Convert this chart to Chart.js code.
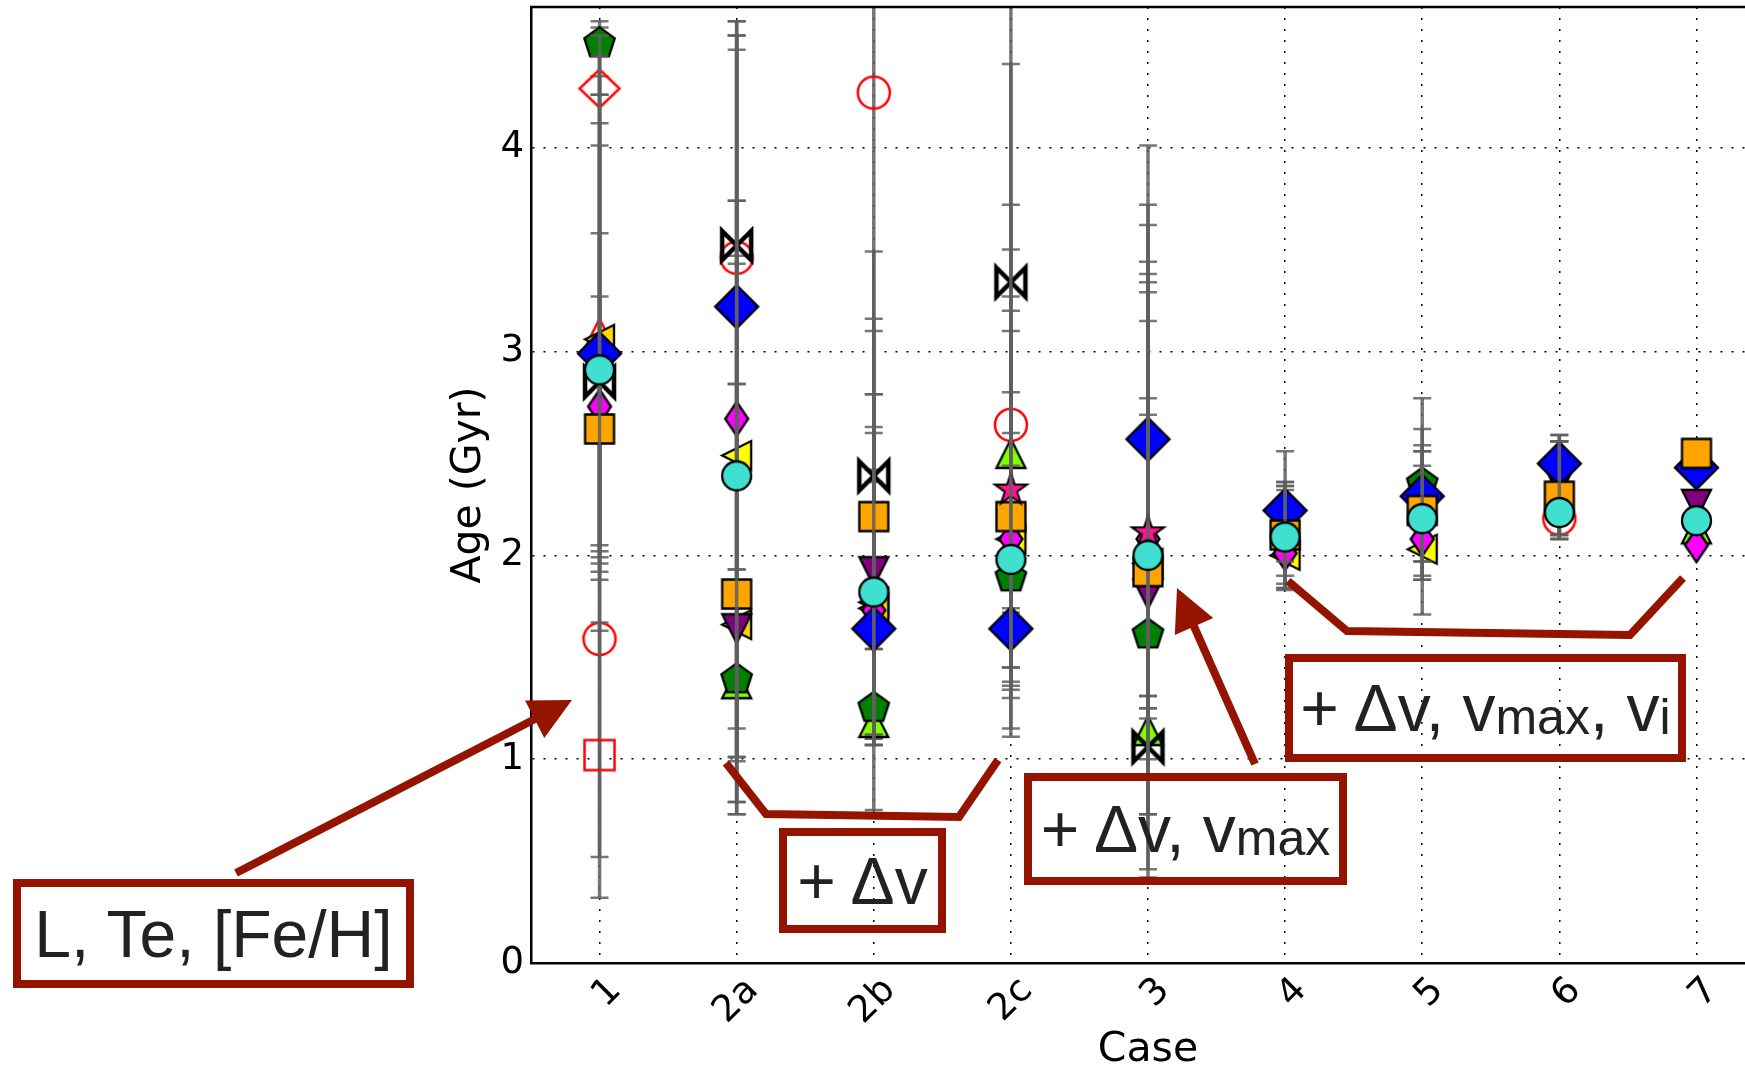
<!DOCTYPE html>
<html><head><meta charset="utf-8">
<script src="https://cdn.jsdelivr.net/npm/chart.js@4.4.0/dist/chart.umd.min.js"></script>
<style>
html,body{margin:0;padding:0;background:#fff;overflow:hidden;width:1745px;height:1072px}
#wrap{position:relative;width:1780px;height:1072px;overflow:hidden}
#c{position:absolute;left:0;top:-8px}
#ann{position:absolute;left:0;top:0}
.box{position:absolute;box-sizing:border-box;border:8px solid #941400;display:flex;align-items:center;justify-content:center;font-family:"Liberation Sans",Arial,sans-serif;font-size:66px;color:#222;white-space:nowrap;line-height:1}
.box .s{font-size:50px;position:relative;top:9px}
</style></head>
<body><div id="wrap">
<canvas id="c" width="1780" height="1080"></canvas>
<svg id="ann" width="1780" height="1072" xmlns="http://www.w3.org/2000/svg"></svg>
<div class="box" style="left:13px;top:879px;width:401px;height:109px">L, Te, [Fe/H]</div>
<div class="box" style="left:779px;top:828px;width:167px;height:105px">+ Δv</div>
<div class="box" style="left:1024px;top:773px;width:323px;height:112px">+ Δv, v<span class="s">max</span></div>
<div class="box" style="left:1285px;top:654px;width:401px;height:108px">+ Δv, v<span class="s">max</span>, v<span class="s">i</span></div>
</div>
<script>
// ---------------- data ----------------
const cases  = ['1','2a','2b','2c','3','4','5','6','7'];
const yTicks = [0,1,2,3,4];

const redCircle     = [1.59, 3.46, 4.27, 2.64, null, null, null, 2.18, null];
const redCircleLo   = [0.52, 2.84, 1.10, 1.11, null, null, null, 2.08, null];
const redCircleHi   = [4.62, 4.62, 5.20, 4.90, null, null, null, 2.56, null];

const redDiamond    = [4.29, null, null, null, null, null, null, null, null];
const redDiamondLo  = [4.26, null, null, null, null, null, null, null, null];
const redDiamondHi  = [4.35, null, null, null, null, null, null, null, null];

const redSquare     = [1.02, null, null, null, null, null, null, null, null];
const redSquareLo   = [0.32, null, null, null, null, null, null, null, null];
const redSquareHi   = [1.67, null, null, null, null, null, null, null, null];

const redTriangle   = [3.09, null, null, null, null, null, null, null, null];
const redTriangleLo = [1.99, null, null, null, null, null, null, null, null];
const redTriangleHi = [4.12, null, null, null, null, null, null, null, null];

const yellowTri     = [null, 2.49, 1.77, 2.08, 1.96, 2.00, 2.03, null, null];
const yellowTriLo   = [null, 0.99, 1.12, 1.36, 0.42, 1.90, 1.97, null, null];
const yellowTriHi   = [null, 3.47, 2.79, 2.80, 3.34, 2.36, 2.51, null, null];

const goldTri       = [3.06, 1.66, 1.74, null, null, null, null, null, null];
const goldTriLo     = [2.02, 0.73, 1.10, null, null, null, null, null, null];
const goldTriHi     = [4.26, 4.55, 2.79, null, null, null, null, null, null];

const limeTri       = [null, 1.37, 1.18, 2.50, 1.14, null, null, null, 2.13];
const limeTriLo     = [null, 0.79, 1.07, 1.38, 1.00, null, null, null, null];
const limeTriHi     = [null, 1.93, 1.30, 3.72, 2.77, null, null, null, null];

const greenPent     = [4.52, 1.40, 1.26, 1.90, 1.62, null, 2.36, null, null];
const greenPentLo   = [4.45, 0.73, 1.12, 1.72, 1.25, null, 1.71, null, null];
const greenPentHi   = [4.59, 2.84, 1.54, 2.60, 3.15, null, 2.77, null, null];

const purpleTri     = [null, 1.64, 1.92, null, 1.81, 2.15, null, 2.36, 2.25];
const purpleTriLo   = [null, 1.01, 1.07, null, 1.31, 1.83, null, 2.10, null];
const purpleTriHi   = [null, 1.66, 3.16, null, 3.29, 2.32, null, 2.56, null];

const magentaDiam   = [2.73, 2.67, 1.73, 2.08, 2.08, 2.01, 2.08, 2.34, 2.05];
const magentaDiamLo = [1.96, 1.15, 1.07, 1.34, 1.20, 1.84, 1.88, 2.10, null];
const magentaDiamHi = [3.27, 4.48, 2.63, 3.10, 3.62, 2.34, 2.44, 2.56, null];

const bowtie        = [2.85, 3.52, 2.39, 3.34, 1.06, null, null, null, null];
const bowtieLo      = [1.88, 3.43, 2.36, 3.27, 0.73, null, null, null, null];
const bowtieHi      = [4.01, 3.74, 2.42, 3.50, 2.69, null, null, null, null];

const blueDiam      = [2.99, 3.22, 1.64, 1.64, 2.57, 2.22, 2.29, 2.45, 2.43];
const blueDiamLo    = [2.05, 1.93, 1.54, 1.45, 1.31, 1.97, 1.97, 2.08, null];
const blueDiamHi    = [4.55, 4.55, 2.60, 1.74, 4.01, 2.51, 2.62, 2.59, null];

const orangeSq      = [2.62, 1.81, 2.19, 2.19, 1.92, 2.10, 2.22, 2.29, 2.50];
const orangeSqLo    = [1.63, 1.01, 1.12, 1.30, 0.46, 1.84, 1.88, 2.10, null];
const orangeSqHi    = [4.45, 4.62, 3.49, 3.20, 3.38, 2.36, 2.54, 2.56, null];

const pinkStar      = [null, null, null, 2.33, 2.12, null, null, null, null];
const pinkStarLo    = [null, null, null, 1.45, 1.25, null, null, null, null];
const pinkStarHi    = [null, null, null, 4.41, 3.72, null, null, null, null];

const cyanCircle    = [2.91, 2.39, 1.82, 1.98, 2.00, 2.09, 2.18, 2.21, 2.17];
const cyanCircleLo  = [1.92, 0.79, 0.75, 1.15, 0.73, 1.86, 1.90, 2.08, null];
const cyanCircleHi  = [3.58, 3.74, 3.10, 2.44, 3.44, 2.34, 2.51, 2.59, null];

// ---------------- marker images ----------------
function mk(half, draw){
  const s = Math.ceil(half*2+8);
  const c = document.createElement('canvas'); c.width = s; c.height = s;
  const g = c.getContext('2d'); g.translate(s/2, s/2); g.lineJoin='miter'; draw(g); return c;
}
function path(g, pts){ g.beginPath(); pts.forEach((p,i)=> i?g.lineTo(p[0],p[1]):g.moveTo(p[0],p[1])); g.closePath(); }
function paint(g, fill, stroke, lw){ if(fill){g.fillStyle=fill; g.fill();} if(stroke){g.strokeStyle=stroke; g.lineWidth=lw; g.stroke();} }
function circle(r, fill, stroke, lw){ return mk(r, g=>{ g.beginPath(); g.arc(0,0,r,0,Math.PI*2); paint(g,fill,stroke,lw); }); }
function square(h, fill, stroke, lw){ return mk(h*1.1, g=>{ path(g,[[-h,-h],[h,-h],[h,h],[-h,h]]); paint(g,fill,stroke,lw); }); }
function diamond(w, h, fill, stroke, lw){ return mk(Math.max(w,h), g=>{ path(g,[[0,-h],[w,0],[0,h],[-w,0]]); paint(g,fill,stroke,lw); }); }
function tri(h, dir, fill, stroke, lw){
  const P = {up:[[0,-h],[h,h],[-h,h]], down:[[0,h],[h,-h],[-h,-h]], left:[[-h,0],[h,-h],[h,h]], right:[[h,0],[-h,-h],[-h,h]]}[dir];
  return mk(h*1.2, g=>{ path(g,P); paint(g,fill,stroke,lw); });
}
function pent(r, fill, stroke, lw){
  const pts=[]; for(let k=0;k<5;k++){ const a=-Math.PI/2+k*2*Math.PI/5; pts.push([r*Math.cos(a), r*Math.sin(a)+r*0.1]); }
  return mk(r*1.2, g=>{ path(g,pts); paint(g,fill,stroke,lw); });
}
function star(r, fill, stroke, lw){
  const pts=[]; for(let k=0;k<10;k++){ const a=-Math.PI/2+k*Math.PI/5; const rr = k%2? r*0.382 : r; pts.push([rr*Math.cos(a), rr*Math.sin(a)+r*0.1]); }
  return mk(r*1.2, g=>{ path(g,pts); paint(g,fill,stroke,lw); });
}
function bow(h, stroke, lw){
  return mk(h*1.2, g=>{ g.beginPath(); g.moveTo(-h,-h); g.lineTo(0,0); g.lineTo(-h,h); g.closePath();
    g.moveTo(h,-h); g.lineTo(0,0); g.lineTo(h,h); g.closePath(); g.strokeStyle=stroke; g.lineWidth=lw; g.stroke(); });
}
const K = '#000';
// bottom -> top drawing order
const series = [
  {d:redCircle,   lo:redCircleLo,   hi:redCircleHi,   m:circle(16,null,'#ff0000',2.5)},
  {d:redDiamond,  lo:redDiamondLo,  hi:redDiamondHi,  m:diamond(20,19,null,'#ff0000',2.5)},
  {d:redSquare,   lo:redSquareLo,   hi:redSquareHi,   m:square(15,null,'#ff0000',2.5)},
  {d:redTriangle, lo:redTriangleLo, hi:redTriangleHi, m:tri(14.5,'up',null,'#ff0000',2.5)},
  {d:yellowTri,   lo:yellowTriLo,   hi:yellowTriHi,   m:tri(14.5,'left','#ffff00',K,2.3)},
  {d:goldTri,     lo:goldTriLo,     hi:goldTriHi,     m:tri(14.5,'left','#ffd700',K,2.3)},
  {d:limeTri,     lo:limeTriLo,     hi:limeTriHi,     m:tri(14.5,'up','#7fff00',K,2.3)},
  {d:greenPent,   lo:greenPentLo,   hi:greenPentHi,   m:pent(16,'#008000',K,2.3)},
  {d:purpleTri,   lo:purpleTriLo,   hi:purpleTriHi,   m:tri(14.5,'down','#800080',K,2.3)},
  {d:magentaDiam, lo:magentaDiamLo, hi:magentaDiamHi, m:diamond(11.5,17,'#ff00ff',K,2.3)},
  {d:bowtie,      lo:bowtieLo,      hi:bowtieHi,      m:bow(14.5,K,4.5)},
  {d:blueDiam,    lo:blueDiamLo,    hi:blueDiamHi,    m:diamond(21.5,21.5,'#0000ff',K,2.3)},
  {d:orangeSq,    lo:orangeSqLo,    hi:orangeSqHi,    m:square(14.5,'#ffa500',K,2.3)},
  {d:pinkStar,    lo:pinkStarLo,    hi:pinkStarHi,    m:star(17,'#ff1493',K,2)},
  {d:cyanCircle,  lo:cyanCircleLo,  hi:cyanCircleHi,  m:circle(14.5,'#40e0d0',K,2.3)}
];
const datasets = series.map((s,k)=>({
  data: s.d, errLo: s.lo, errHi: s.hi, showLine:false,
  pointStyle: s.m, pointRadius: 14, pointHoverRadius: 14, order: 100-k
}));

const errorBars = {
  id:'errorBars',
  beforeDatasetDraw(chart, args){
    const ds = chart.data.datasets[args.index];
    if(!ds.errLo) return;
    const xs = chart.scales.x, ys = chart.scales.y, ctx = chart.ctx, a = chart.chartArea;
    ctx.save(); ctx.beginPath(); ctx.rect(a.left, a.top, a.right-a.left, a.bottom-a.top); ctx.clip();
    ctx.strokeStyle = 'rgba(95,95,95,0.85)';
    ds.data.forEach((v,i)=>{
      const lo = ds.errLo[i], hi = ds.errHi[i];
      if(v==null || lo==null || hi==null) return;
      const px = xs.getPixelForValue(i), p1 = ys.getPixelForValue(lo), p2 = ys.getPixelForValue(hi);
      ctx.lineWidth = 3.5; ctx.beginPath(); ctx.moveTo(px,p1); ctx.lineTo(px,p2); ctx.stroke();
      ctx.lineWidth = 2.5; ctx.beginPath();
      ctx.moveTo(px-9,p1); ctx.lineTo(px+9,p1); ctx.moveTo(px-9,p2); ctx.lineTo(px+9,p2); ctx.stroke();
    });
    ctx.restore();
  }
};
const frame = {
  id:'frame',
  afterDraw(chart){
    const a = chart.chartArea, ctx = chart.ctx;
    ctx.save(); ctx.strokeStyle='#000'; ctx.lineWidth=2.5; ctx.beginPath();
    ctx.moveTo(a.left-1, a.top); ctx.lineTo(a.right, a.top); ctx.lineTo(a.right, a.bottom); ctx.stroke(); ctx.restore();
  }
};

const tickFont = {family:'DejaVu Sans', size:37};
const titleFont = {family:'DejaVu Sans', size:41, lineHeight:1};
new Chart(document.getElementById('c'), {
  type:'line',
  data:{ labels: cases, datasets },
  plugins:[errorBars, frame],
  options:{
    responsive:false, animation:false, devicePixelRatio:1, events:[],
    layout:{ padding:{left:445, top:2, right:15, bottom:0} },
    plugins:{ legend:{display:false}, tooltip:{enabled:false} },
    scales:{
      x:{ type:'category', offset:true, z:1,
        afterFit(s){ s.height = 109; s.paddingLeft = 0; s.paddingRight = 0; },
        grid:{ offset:false, color:'#000', lineWidth:1.5, drawTicks:false },
        border:{ display:true, color:'#000', width:2.5, dash:[2,9] },
        ticks:{ autoSkip:false, minRotation:45, maxRotation:45, padding:6, labelOffset:16, color:'#000', font:tickFont },
        title:{ display:true, text:'Case', color:'#000', font:titleFont, padding:{top:0, bottom:1} } },
      y:{ min:0, max:4.69, z:1,
        afterFit(s){ s.width = 86; s.paddingTop = 0; s.paddingBottom = 0; },
        afterBuildTicks(s){ s.ticks = yTicks.map(v=>({value:v})); },
        grid:{ color:'#000', lineWidth:1.5, drawTicks:false },
        border:{ display:true, color:'#000', width:2.5, dash:[2,9] },
        ticks:{ padding:7, color:'#000', font:tickFont },
        title:{ display:true, text:'Age (Gyr)', color:'#000', font:titleFont, padding:{top:4, bottom:0} } }
    }
  }
});

// ---------------- annotation lines (pixel overlay) ----------------
const RED = '#941400';
const svg = document.getElementById('ann');
function el(tag, attrs){ const e=document.createElementNS('http://www.w3.org/2000/svg',tag); for(const k in attrs) e.setAttribute(k, attrs[k]); svg.appendChild(e); return e; }
function polyline(pts){ el('polyline',{points:pts.map(p=>p.join(',')).join(' '), fill:'none', stroke:RED, 'stroke-width':8, 'stroke-linejoin':'miter'}); }
function arrow(x0,y0,x1,y1){
  const dx=x1-x0, dy=y1-y0, L=Math.hypot(dx,dy), ux=dx/L, uy=dy/L, hl=42, hw=21;
  const bx=x1-ux*hl, by=y1-uy*hl;
  el('line',{x1:x0,y1:y0,x2:bx+ux*2,y2:by+uy*2,stroke:RED,'stroke-width':8});
  el('polygon',{points:`${x1},${y1} ${bx-uy*hw},${by+ux*hw} ${bx+uy*hw},${by-ux*hw}`, fill:RED});
}
arrow(236,873,572,700);
arrow(1255,764,1177,588);
polyline([[726,763],[766,814],[959,817],[998,760]]);
polyline([[1288,581],[1347,631],[1630,635],[1683,578]]);
</script>
</body></html>
